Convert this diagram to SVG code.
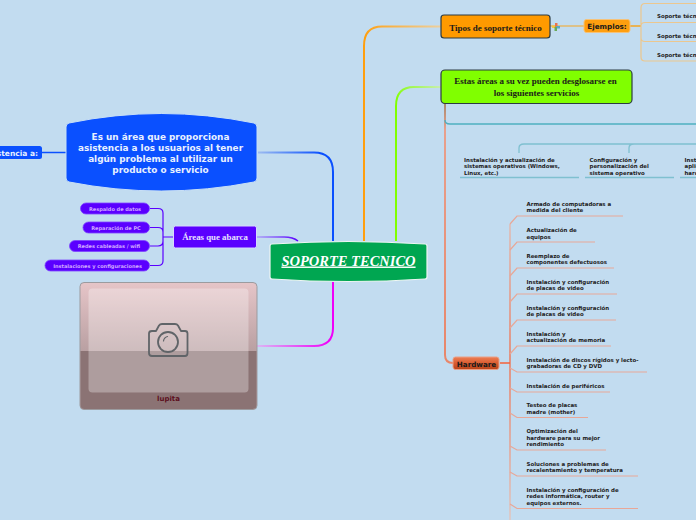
<svg xmlns="http://www.w3.org/2000/svg" width="696" height="520" viewBox="0 0 696 520">
<style>
.s{font-family:"DejaVu Sans",Verdana,sans-serif;font-weight:700}
.t{font-family:"Liberation Serif","Times New Roman",serif;font-weight:700}
.h{font-size:5.450px;fill:#222}
.p{font-size:5px;fill:#cfa8ff;text-anchor:middle}
.pill{fill:#5a00ff;stroke:#7d45ff;stroke-width:.8}
.c{fill:none}
.hl{stroke:#e8a797;stroke-width:1.200;fill:none}
.tl{stroke:#7fc0d0;stroke-width:1.300;fill:none}
.or{stroke:#ecc78e;stroke-width:1.200;fill:none}
</style>
<defs>
<linearGradient id="gb" gradientUnits="userSpaceOnUse" x1="258" y1="152" x2="333" y2="200"><stop offset="0" stop-color="#9dbcf0"/><stop offset=".6" stop-color="#0a50ff"/></linearGradient>
<linearGradient id="gm" gradientUnits="userSpaceOnUse" x1="258" y1="346" x2="333" y2="310"><stop offset="0" stop-color="#dcb4f4"/><stop offset=".8" stop-color="#f000f8"/></linearGradient>
<linearGradient id="gp" gradientUnits="userSpaceOnUse" x1="257" y1="237" x2="298" y2="241"><stop offset="0" stop-color="#aaa0f8"/><stop offset="1" stop-color="#5a00ff"/></linearGradient>
<linearGradient id="go" gradientUnits="userSpaceOnUse" x1="441" y1="26" x2="364" y2="70"><stop offset="0" stop-color="#ecd0a0"/><stop offset=".8" stop-color="#ff9f0f"/></linearGradient>
<linearGradient id="gg" gradientUnits="userSpaceOnUse" x1="441" y1="87" x2="396" y2="120"><stop offset="0" stop-color="#c8eeb0"/><stop offset=".8" stop-color="#80ff00"/></linearGradient>
<linearGradient id="gh" gradientUnits="userSpaceOnUse" x1="445" y1="104" x2="445" y2="363"><stop offset="0" stop-color="#a98a70"/><stop offset=".1" stop-color="#e8a08c"/><stop offset="1" stop-color="#e8866a"/></linearGradient>
<linearGradient id="gv" gradientUnits="userSpaceOnUse" x1="510" y1="200" x2="510" y2="520"><stop offset="0" stop-color="#e8c0b4"/><stop offset=".5" stop-color="#f4623a"/><stop offset="1" stop-color="#e8c0b4"/></linearGradient>
<linearGradient id="gk" x1="0" y1="0" x2="0" y2="1"><stop offset="0" stop-color="#e6c5c8"/><stop offset=".54" stop-color="#b9a0a2"/></linearGradient>
<linearGradient id="gh2" x1="0" y1="0" x2="0" y2="1"><stop offset="0" stop-color="#ee7f55"/><stop offset=".5" stop-color="#d95c30"/><stop offset="1" stop-color="#b84318"/></linearGradient>
</defs>
<rect width="696" height="520" fill="#c2dcf0"/>
<g id="connectors">
<path class="c" d="M258 152.500H314Q333 152.500 333 172V241" stroke="url(#gb)" stroke-width="2"/>
<path class="c" d="M257 237H284Q293 237 298 241" stroke="url(#gp)" stroke-width="1.500"/>
<path class="c" d="M257 346H314Q333 346 333 328V282" stroke="url(#gm)" stroke-width="2"/>
<path class="c" d="M441 26.500H382Q364 26.500 364 46V241" stroke="url(#go)" stroke-width="2"/>
<path class="c" d="M441 87H414Q396 87 396 106V241" stroke="url(#gg)" stroke-width="2"/>
<path class="c" d="M445 104V355Q445 363 453 363" stroke="url(#gh)" stroke-width="2"/>
<path class="c" d="M445 120Q445 124 450 124H696" stroke="#4fb0c0" stroke-width="1.400"/>
<path class="c" d="M550 26H584" stroke="#f5a623" stroke-width="1.200"/>
<path class="c" d="M630 26H641" stroke="#f5a623" stroke-width="1.500"/>
<path class="or" d="M696 3.500H645Q641 3.500 641 8V57Q641 61 645 61H696M641 26Q641 22.500 645 22.500H696M641 38Q641 41.500 645 41.500H696"/>
<path class="c" d="M42 152.500H66" stroke="#0a50ff" stroke-width="1.500"/>
<path class="c" d="M173 237H163M150 208.500H158Q163 208.500 163 213V261Q163 265.500 158 265.500H150M150 227.500H158Q163 227.500 163 232M150 246H158Q163 246 163 241" stroke="#5a00ff" stroke-width="1.200"/>
<path class="tl" d="M519 153V148Q519 144 524 144H696M629 153V148Q629 144 634 144H696"/>
<path class="tl" d="M460 177.500H579M585 177.500H674M680 177.500H696"/>
<path d="M510 224V520" stroke="url(#gv)" stroke-width="1.200" fill="none"/>
<path d="M500 363H510" stroke="#f4623a" stroke-width="1.500" fill="none"/>
<path class="hl" d="M510 224L517 216H623M510 250L517 242H595M510 276L517 268H614M510 302L517 294H617M510 328L517 320H616M510 354L517 346H611M510 368L517 372H647M510 388L517 392H610M510 413L517 417.500H588M510 446L517 450H606M510 472L517 476H638M510 504L517 508.500H638"/>
</g>
<g id="n-center">
<path d="M272 244Q348 239 425 244Q427 244 427 246V277Q427 279 425 279Q348 284 272 279Q270 279 270 277V246Q270 244 272 244Z" fill="#00a651" stroke="#eef6f4" stroke-width="1.200"/>
<text x="348.500" y="265.500" text-anchor="middle" font-size="14.500" fill="#fff" text-decoration="underline" class="t" font-style="italic">SOPORTE TECNICO</text>
</g>
<g id="n-definicion">
<path d="M69 123Q161 104 254 123Q257 124 257 127V178Q257 181 254 182Q161 200 69 182Q66 181 66 178V127Q66 124 69 123Z" fill="#0a50ff" stroke="#c9e0f6" stroke-width="1"/>
<g class="s" font-size="8.900" fill="#e8f0ff" text-anchor="middle">
<text x="160.500" y="140">Es un área que proporciona</text>
<text x="160.500" y="151">asistencia a los usuarios al tener</text>
<text x="160.500" y="162">algún problema al utilizar un</text>
<text x="160.500" y="173">producto o servicio</text>
</g>
</g>
<g id="n-asistencia">
<rect x="-20" y="146" width="62" height="13" rx="2.500" fill="#0a50ff"/>
<text x="38" y="155.500" class="s" font-size="7.500" fill="#e8f0ff" text-anchor="end">stencia a:</text>
</g>
<g id="n-areas">
<rect x="173.500" y="226" width="83" height="22" rx="2" fill="#5a00ff" stroke="#d8d8ff" stroke-width="1"/>
<text x="215" y="240" class="t" font-size="8.800" fill="#e8e0ff" text-anchor="middle">Áreas que abarca</text>
</g>
<g id="n-respaldo"><rect class="pill" x="80.500" y="203" width="69" height="11" rx="5.500"/><text class="p s" x="115" y="210.800">Respaldo de datos</text></g>
<g id="n-reparacion"><rect class="pill" x="83" y="222" width="66.500" height="11" rx="5.500"/><text class="p s" x="116" y="229.800">Reparación de PC</text></g>
<g id="n-redes"><rect class="pill" x="69.500" y="240.500" width="80" height="11" rx="5.500"/><text class="p s" x="109" y="248.300">Redes cableadas / wifi</text></g>
<g id="n-instalaciones"><rect class="pill" x="45" y="260" width="104.500" height="11" rx="5.500"/><text class="p s" x="97.500" y="267.800">Instalaciones y configuraciones</text></g>
<g id="n-imagen">
<rect x="80" y="282.500" width="177" height="127" rx="4" fill="url(#gk)" stroke="#9b9b9f" stroke-width="1"/>
<path d="M80.500 351H256.500V405Q256.500 409 252.500 409H84.500Q80.500 409 80.500 405Z" fill="#8b7374"/>
<rect x="88.500" y="288.500" width="160" height="104" rx="4" fill="#fff" fill-opacity=".3"/>
<g fill="none" stroke="#606468" stroke-width="1.800" stroke-linejoin="round" stroke-linecap="round">
<path d="M152 331H156L159 325.500Q160 324 162 324H175Q177 324 178 325.500L181 331H185Q187.500 331 187.500 333.500V353Q187.500 356 185 356H152Q149 356 149 353V333.500Q149 331 152 331Z"/>
<circle cx="168" cy="342" r="10"/>
<path d="M163.500 341Q164 337.500 167.500 336.500" stroke-width="1.200"/>
</g>
<text x="168.500" y="401" class="s" font-size="7" fill="#5c0f1d" text-anchor="middle">lupita</text>
</g>
<g id="n-tipos">
<rect x="441" y="15" width="109" height="23" rx="3" fill="#ff9a00" stroke="#2c3b42" stroke-width="1.200"/>
<text x="495.500" y="30.500" class="t" font-size="9" fill="#1a1a1a" text-anchor="middle">Tipos de soporte técnico</text>
</g>
<g id="n-icono">
<rect x="552" y="25.500" width="4" height="2.500" fill="#f5c542"/><rect x="555" y="23" width="2.500" height="4" fill="#e8744a"/><rect x="556" y="26" width="4" height="2.500" fill="#5aa8c8"/><rect x="554.500" y="27" width="2.500" height="4" fill="#6aaa58"/>
</g>
<g id="n-ejemplos">
<rect x="584" y="19.500" width="46" height="13" rx="2.500" fill="#ff9f0f" stroke="#f5c27a" stroke-width="1"/>
<text x="607" y="29" class="s" font-size="7.200" fill="#1a1a1a" text-anchor="middle">Ejemplos:</text>
</g>
<g id="n-soportes" class="s" font-size="5.450" fill="#222">
<text x="657" y="18">Soporte técn</text>
<text x="657" y="38">Soporte técn</text>
<text x="657" y="57">Soporte técn</text>
</g>
<g id="n-areas-servicios">
<rect x="441" y="70" width="191" height="33.500" rx="4" fill="#80ff00" stroke="#2c3b42" stroke-width="1.200"/>
<g class="t" font-size="9" fill="#1a1a1a" text-anchor="middle">
<text x="535.500" y="84">Estas áreas a su vez pueden desglosarse en</text>
<text x="536.500" y="96">los siguientes servicios</text>
</g>
</g>
<g id="n-software" class="s h">
<text x="464" y="161.500">Instalación y actualización de</text>
<text x="464" y="167.500">sistemas operativos (Windows,</text>
<text x="464" y="174.500">Linux, etc.)</text>
<text x="589.500" y="161.500">Configuración y</text>
<text x="589.500" y="167.500">personalización del</text>
<text x="589.500" y="174.500">sistema operativo</text>
<text x="684.500" y="161.500">Inst</text>
<text x="684.500" y="167.500">aplic</text>
<text x="684.500" y="174.500">hard</text>
</g>
<g id="n-hardware">
<rect x="453" y="357" width="46" height="12.500" rx="2.500" fill="url(#gh2)" stroke="#e8a088" stroke-width="1"/>
<text x="476.500" y="366.500" class="s" font-size="7.200" fill="#1a1a1a" text-anchor="middle">Hardware</text>
</g>
<g id="n-hw-items" class="s h">
<text x="526.500" y="206">Armado de computadoras a</text><text x="526.500" y="212">medida del cliente</text>
<text x="526.500" y="232">Actualización de</text><text x="526.500" y="238.500">equipos</text>
<text x="526.500" y="258">Reemplazo de</text><text x="526.500" y="264">componentes defectuosos</text>
<text x="526.500" y="284">Instalación y configuración</text><text x="526.500" y="290">de placas de video</text>
<text x="526.500" y="310">Instalación y configuración</text><text x="526.500" y="316">de placas de video</text>
<text x="526.500" y="336">Instalación y</text><text x="526.500" y="342">actualización de memoria</text>
<text x="526.500" y="362">Instalación de discos rígidos y lecto-</text><text x="526.500" y="368">grabadoras de CD y DVD</text>
<text x="526.500" y="388">Instalación de periféricos</text>
<text x="526.500" y="407">Testeo de placas</text><text x="526.500" y="414">madre (mother)</text>
<text x="526.500" y="433">Optimización del</text><text x="526.500" y="440">hardware para su mejor</text><text x="526.500" y="446">rendimiento</text>
<text x="526.500" y="466">Soluciones a problemas de</text><text x="526.500" y="472">recalentamiento y temperatura</text>
<text x="526.500" y="492">Instalación y configuración de</text><text x="526.500" y="498">redes informática, router y</text><text x="526.500" y="505">equipos externos.</text>
</g>
</svg>
